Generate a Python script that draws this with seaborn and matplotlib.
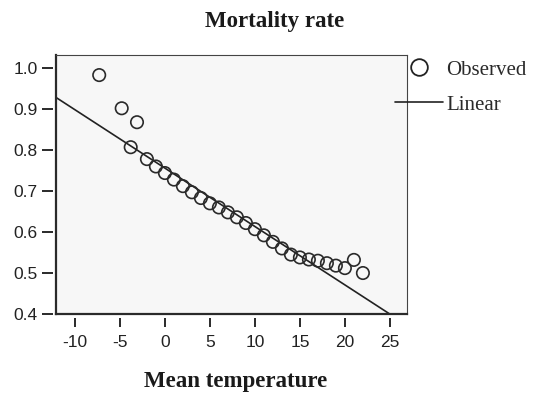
import numpy as np
import pandas as pd
import seaborn as sns
import matplotlib.pyplot as plt
from matplotlib.lines import Line2D

# ---- data ----
obs_temp = [-7.3, -4.8, -3.1, -3.8, -2.0, -1.0, 0.0, 1.0, 2.0, 3.0, 4.0, 5.0, 6.0, 7.0,
            8.0, 9.0, 10.0, 11.0, 12.0, 13.0, 14.0, 15.0, 16.0, 17.0, 18.0, 19.0, 20.0, 21.0, 22.0]
obs_mortality = [0.983, 0.902, 0.868, 0.807, 0.778, 0.760, 0.744, 0.728, 0.712, 0.697, 0.683,
                 0.670, 0.660, 0.648, 0.636, 0.622, 0.607, 0.592, 0.576, 0.560, 0.545, 0.538,
                 0.533, 0.530, 0.524, 0.518, 0.512, 0.532, 0.500]
linear_intercept = 0.756
linear_slope = -0.01425
x_ticks = [-10, -5, 0, 5, 10, 15, 20, 25]
y_ticks = [0.4, 0.5, 0.6, 0.7, 0.8, 0.9, 1.0]
legend_labels = ["Observed", "Linear"]
title_text = "Mortality rate"
xlabel_text = "Mean temperature"

sns.set_theme(style="white")
plt.rcParams['font.family'] = ['Liberation Sans', 'DejaVu Sans']

W, H = 533, 396
fig = plt.figure(figsize=(W / 100, H / 100), dpi=100)
fig.patch.set_facecolor('white')
L, R, T, B = 56, 407, 55, 314
ax = fig.add_axes([L / W, 1 - B / H, (R - L) / W, (B - T) / H])
ax.set_facecolor('#f7f7f7')

xlim = (-12.1, 26.9)
ylim = (0.4, 1.032)

df = pd.DataFrame({"temp": obs_temp, "mort": obs_mortality})
sns.scatterplot(data=df, x="temp", y="mort", ax=ax, marker='o', s=80,
                facecolor='none', edgecolor='#2a2a2a', linewidth=1.2, legend=False, zorder=3)

fit_x = np.array(xlim)
fit_df = pd.DataFrame({"temp": fit_x, "mort": linear_intercept + linear_slope * fit_x})
sns.lineplot(data=fit_df, x="temp", y="mort", ax=ax, color='#222222', linewidth=1.2, zorder=2)

ax.set_xlim(*xlim)
ax.set_ylim(*ylim)
ax.set_xlabel("")
ax.set_ylabel("")
ax.tick_params(left=False, bottom=False, labelleft=False, labelbottom=False)

for side in ['left', 'bottom']:
    ax.spines[side].set_linewidth(1.6)
    ax.spines[side].set_color('#2a2a2a')
for side in ['top', 'right']:
    ax.spines[side].set_linewidth(0.8)
    ax.spines[side].set_color('#444444')

tick_font = dict(family=['Liberation Sans', 'DejaVu Sans'], size=12.5, color='#222222')

secx = ax.secondary_xaxis(-4 / (B - T))
secx.set_xticks(x_ticks)
secx.set_xticklabels([str(t) for t in x_ticks], **tick_font)
secx.tick_params(axis='x', length=6.5, width=1.4, color='#2a2a2a', pad=6, direction='out')
secx.spines['bottom'].set_visible(False)

secy = ax.secondary_yaxis(-3 / (R - L))
secy.set_yticks(y_ticks)
secy.set_yticklabels([f"{t:.1f}" for t in y_ticks], **tick_font)
secy.tick_params(axis='y', length=8, width=1.4, color='#2a2a2a', pad=3, direction='out')
secy.spines['left'].set_visible(False)

serif = ['Liberation Serif', 'DejaVu Serif']
fig.text(275 / W, 1 - 21 / H, title_text, ha='center', va='center',
         family=serif, fontweight='bold', fontsize=16.5, color='#1a1a1a')
fig.text(236 / W, 1 - 381 / H, xlabel_text, ha='center', va='center',
         family=serif, fontweight='bold', fontsize=16.5, color='#1a1a1a')

handles = [Line2D([], [], marker='o', ls='none', mfc='none', mec='#222222', ms=12, mew=1.3),
           Line2D([], [], color='#222222', lw=1.2)]
ax.legend(handles=handles, labels=legend_labels, loc='upper left',
          bbox_to_anchor=(395 / W, 1 - 60 / H), bbox_transform=fig.transFigure,
          frameon=False, prop=dict(family=serif, size=15), handlelength=2.3,
          handletextpad=0.15, borderaxespad=0, borderpad=0, labelspacing=0.75,
          labelcolor='#2a2a2a')

fig.savefig("out.png", dpi=100)
